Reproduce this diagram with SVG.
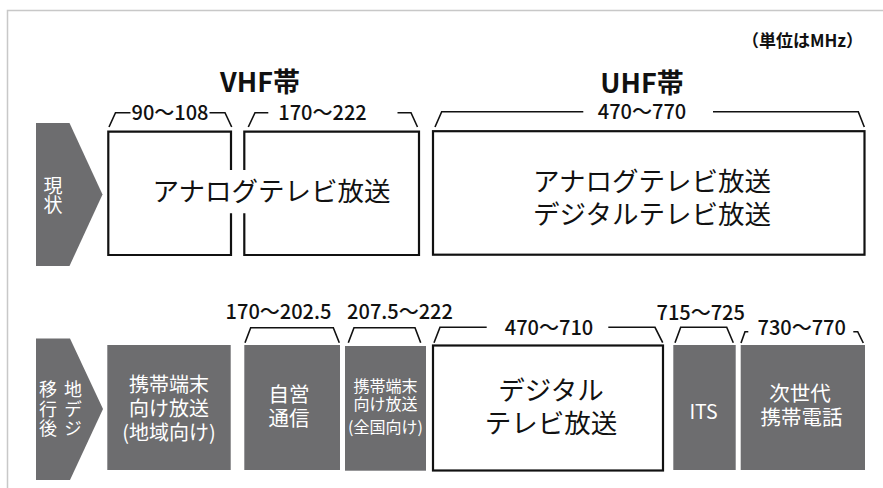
<svg xmlns="http://www.w3.org/2000/svg" width="883" height="488" viewBox="0 0 883 488">
<style>
text{font-family:"Noto Sans CJK JP","Noto Sans CJK SC",sans-serif;}
.frame{fill:none;stroke:#c8c8c8;stroke-width:1.5;}
.arrow{fill:#6d6d6f;}
.gbox{fill:#6d6d6f;}
.wbox{fill:#fff;stroke:#111;stroke-width:2.2;}
.edge{fill:none;stroke:#111;stroke-width:2.2;}
.br{fill:none;stroke:#111;stroke-width:1.6;stroke-linejoin:miter;}
.num{font-size:20px;font-weight:500;fill:#111;text-anchor:middle;}
.band{font-size:27px;font-weight:bold;fill:#111;text-anchor:middle;}
.big{font-size:26.5px;fill:#111;text-anchor:middle;}
.wt{fill:#fff;text-anchor:middle;}
.vt{fill:#fff;writing-mode:vertical-rl;text-anchor:start;}
</style>
<rect width="883" height="488" fill="#fff"/>
<path class="frame" d="M7.5,488 V10.5 H883"/>
<text x="802.5" y="47" style="font-size:17px;font-weight:bold;fill:#111;text-anchor:middle">（単位はMHz）</text>
<text class="band" x="260" y="92">VHF帯</text>
<text class="band" x="642" y="92.5">UHF帯</text>

<g id="label-now">
<polygon class="arrow" points="36,123 69.5,123 102.5,194.5 69.5,266 36,266"/>
<text class="vt" x="53" y="176" font-size="19" letter-spacing="0.5">現状</text>
</g>

<g id="vhf-analog">
<path class="edge" d="M231,170 V131.7 H108.3 V255 H231 V213.3"/>
<path class="edge" d="M244.3,170 V131.7 H419 V255 H244.3 V213.3"/>
<text class="big" x="271.5" y="201">アナログテレビ放送</text>
</g>

<g id="uhf-current">
<rect class="wbox" x="433" y="131.2" width="431.5" height="123.5"/>
<text class="big" x="652" y="191">アナログテレビ放送<tspan x="652" y="224">デジタルテレビ放送</tspan></text>
</g>

<g id="label-after">
<polygon class="arrow" points="36,338.5 70,338.5 103,409 70,480 36,480"/>
<text class="vt" x="48" y="380.5" font-size="18" letter-spacing="1.2">移行後</text>
<text class="vt" x="73" y="380.5" font-size="18" letter-spacing="1.2">地デジ</text>
</g>

<g id="mobile-local">
<rect class="gbox" x="107.3" y="345" width="123.4" height="125"/>
<text class="wt" x="169" y="392" font-size="20">携帯端末<tspan x="169" y="415.5">向け放送</tspan><tspan x="169" y="439.5">(地域向け)</tspan></text>
</g>

<g id="self-comm">
<rect class="gbox" x="244.3" y="345" width="95.7" height="125"/>
<text class="wt" x="289" y="402" font-size="20.5">自営<tspan x="289" y="425.5">通信</tspan></text>
</g>

<g id="mobile-national">
<rect class="gbox" x="345" y="346" width="81" height="124.7"/>
<text class="wt" x="385.5" y="391.5" font-size="16">携帯端末<tspan x="385.5" y="410">向け放送</tspan><tspan x="385.5" y="433">(全国向け)</tspan></text>
</g>

<g id="digital-tv">
<rect class="wbox" x="433" y="345.5" width="230" height="125"/>
<text class="big" x="551" y="400">デジタル<tspan x="551" y="433">テレビ放送</tspan></text>
</g>

<g id="its">
<rect class="gbox" x="673.3" y="345" width="62.4" height="125"/>
<text class="wt" x="703.5" y="418.5" font-size="19.5">ITS</text>
</g>

<g id="next-mobile">
<rect class="gbox" x="740.7" y="345" width="124.3" height="125"/>
<text class="wt" x="800" y="401" font-size="20.5">次世代<tspan x="801.5" y="424.5">携帯電話</tspan></text>
</g>

<g id="connectors">
<path class="br" d="M109,127 L115.5,112.7 H130.5 M209.5,112.7 H225 L231.7,127"/>
<path class="br" d="M248.3,127 L255,112.7 H268.3 M397.5,112.7 H411 L417.5,127"/>
<path class="br" d="M435,127 L441.7,111.7 H583.3 M713,111.7 H858.3 L864.3,127"/>
<path class="br" d="M245,342.7 L250.7,327.7 H333.3 L339.3,342.7"/>
<path class="br" d="M348.3,342.7 L354,327.7 H415 L420.7,342.7"/>
<path class="br" d="M434,342.7 L440,327.3 H486.7 M608.3,327.3 H655 L662.7,342.7"/>
<path class="br" d="M675,342.7 L680.7,327.3 H726.7 L733.3,342.7"/>
<path class="br" d="M741,343 L745,331.7 H748.3 M853.3,331.7 H857.7 L863.3,343"/>
<text class="num" x="170" y="120">90〜108</text>
<text class="num" x="322.5" y="120">170〜222</text>
<text class="num" x="642" y="119">470〜770</text>
<text class="num" x="278.5" y="319">170〜202.5</text>
<text class="num" x="400" y="319">207.5〜222</text>
<text class="num" x="549" y="335">470〜710</text>
<text class="num" x="700.7" y="320">715〜725</text>
<text class="num" x="801.7" y="335">730〜770</text>
</g>
</svg>
